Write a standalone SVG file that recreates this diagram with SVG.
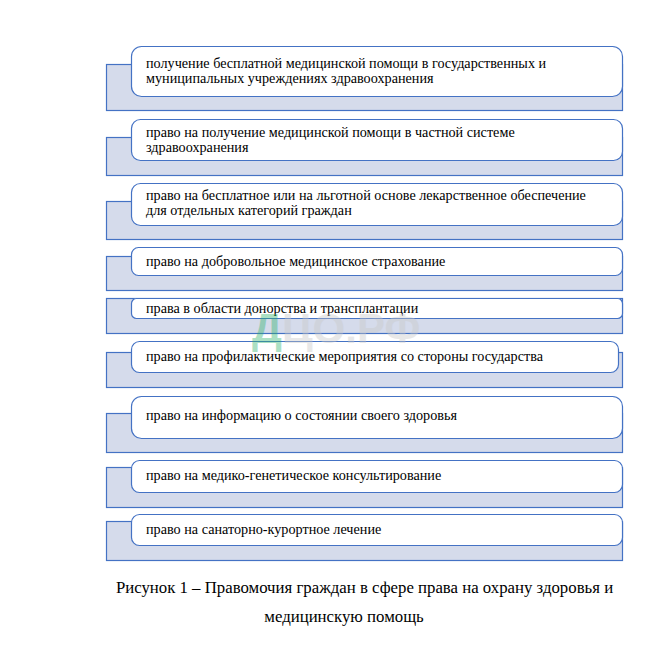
<svg xmlns="http://www.w3.org/2000/svg" width="663" height="651" viewBox="0 0 663 651">
<style>
.bg{fill:#d5dbeb;stroke:#4472c4;stroke-width:1.2}
.box{fill:#ffffff;stroke:#4472c4;stroke-width:1.2}
.t{font-family:"Liberation Serif","Times New Roman",serif;font-size:14.2px;fill:#000}
.cap{font-family:"Liberation Serif","Times New Roman",serif;font-size:16.8px;fill:#000}
.wm{font-family:"Liberation Sans",Arial,sans-serif;font-weight:bold;font-size:42px}
</style>
<rect width="663" height="651" fill="#fff"/>
<g id="connectors"></g>
<g id="n1"><rect class="bg" x="106.5" y="64.5" width="516" height="46"/><rect class="box" x="131.5" y="46.5" width="491" height="50" rx="10"/><text class="t" x="146" y="67.5">получение бесплатной медицинской помощи в государственных и</text><text class="t" x="146" y="83">муниципальных учреждениях здравоохранения</text></g>
<g id="n2"><rect class="bg" x="106.5" y="137.5" width="516" height="38"/><rect class="box" x="131.5" y="119.5" width="491" height="41" rx="9"/><text class="t" x="146" y="136.5">право на получение медицинской помощи в частной системе</text><text class="t" x="146" y="152">здравоохранения</text></g>
<g id="n3"><rect class="bg" x="106.5" y="201.5" width="516" height="38"/><rect class="box" x="131.5" y="183.5" width="491" height="42" rx="9"/><text class="t" x="146" y="199.5">право на бесплатное или на льготной основе лекарственное обеспечение</text><text class="t" x="146" y="215">для отдельных категорий граждан</text></g>
<g id="n4"><rect class="bg" x="106.5" y="256.5" width="516" height="34"/><rect class="box" x="131.5" y="247.5" width="491" height="28" rx="7"/><text class="t" x="146" y="266">право на добровольное медицинское страхование</text></g>
<g id="n5"><rect class="bg" x="106.5" y="298.5" width="516" height="35"/><rect class="box" x="131.5" y="298.5" width="491" height="20" rx="5"/><text class="t" x="146" y="313">права в области донорства и трансплантации</text></g>
<g id="n6"><rect class="bg" x="106.5" y="352.5" width="516" height="35"/><rect class="box" x="131.5" y="341.5" width="487" height="31" rx="8"/><text class="t" x="146" y="361">право на профилактические мероприятия со стороны государства</text></g>
<g id="n7"><rect class="bg" x="106.5" y="413.5" width="516" height="39"/><rect class="box" x="131.5" y="396.5" width="491" height="42" rx="10"/><text class="t" x="146" y="420">право на информацию о состоянии своего здоровья</text></g>
<g id="n8"><rect class="bg" x="106.5" y="467.5" width="516" height="40"/><rect class="box" x="131.5" y="460.5" width="491" height="32" rx="8"/><text class="t" x="146" y="480">право на медико-генетическое консультирование</text></g>
<g id="n9"><rect class="bg" x="106.5" y="521.5" width="516" height="39"/><rect class="box" x="131.5" y="514.5" width="491" height="31" rx="8"/><text class="t" x="146" y="534">право на санаторно-курортное лечение</text></g>
<g id="watermark" opacity="0.4"><text class="wm" x="252" y="343"><tspan fill="#2fb36b">Д</tspan><tspan fill="#c8c8c8">ЦО.РФ</tspan></text></g>
<g id="caption"><text class="cap" x="364.5" y="593" text-anchor="middle">Рисунок 1 – Правомочия граждан в сфере права на охрану здоровья и</text><text class="cap" x="344" y="622" text-anchor="middle">медицинскую помощь</text></g>
</svg>
